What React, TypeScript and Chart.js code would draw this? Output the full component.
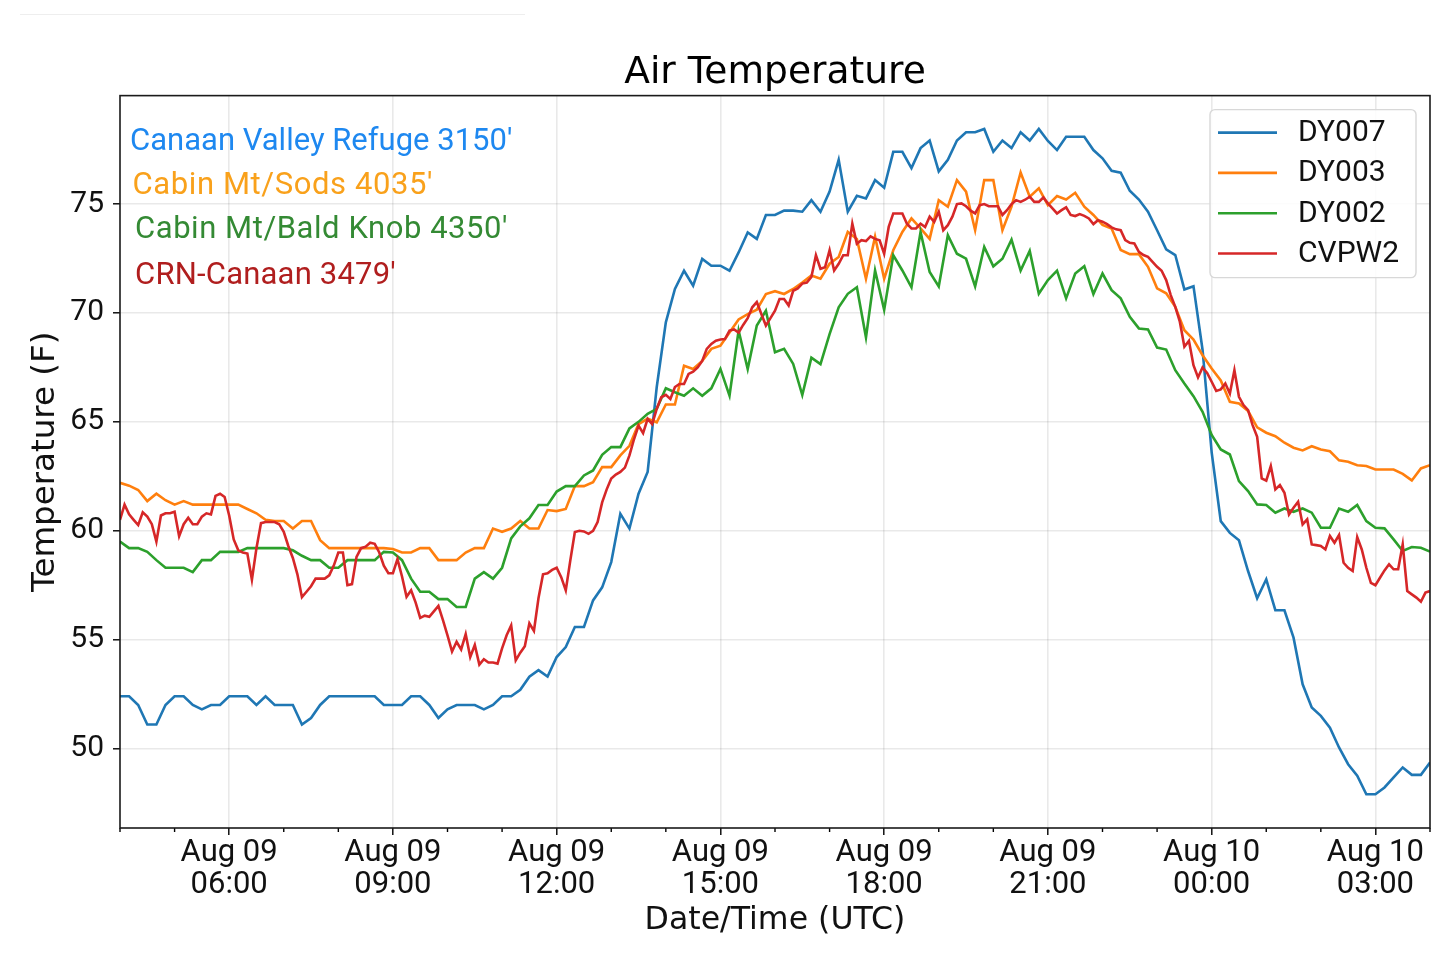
import React, { useEffect, useRef } from 'react';
import { Chart, registerables } from 'chart.js';

Chart.register(...registerables);

// Time axis: hours since Aug 09 00:00 UTC
const startHour = 4; // Aug 09 04:00
const endHour = 28; // Aug 10 04:00
const stepHours10 = 1 / 6; // 10-minute series
const stepHours5 = 1 / 12; // 5-minute series

const seriesLabels = ['DY007', 'DY003', 'DY002', 'CVPW2'];
const seriesColors = ['#1f77b4', '#ff7f0e', '#2ca02c', '#d62728'];

const stationNames = [
  "Canaan Valley Refuge 3150'",
  "Cabin Mt/Sods 4035'",
  "Cabin Mt/Bald Knob 4350'",
  "CRN-Canaan 3479'",
];
const stationColors = ['#1E88F0', '#F9A11B', '#348A34', '#B01E1E'];

const yTicks = [50, 55, 60, 65, 70, 75];
const xMajorHours = [6, 9, 12, 15, 18, 21, 24, 27];
const xTickLabels = [
  ['Aug 09', '06:00'],
  ['Aug 09', '09:00'],
  ['Aug 09', '12:00'],
  ['Aug 09', '15:00'],
  ['Aug 09', '18:00'],
  ['Aug 09', '21:00'],
  ['Aug 10', '00:00'],
  ['Aug 10', '03:00'],
];

// DY007 (10-min)
const dy007 = [
  52.4, 52.4, 52.0, 51.1, 51.1, 52.0, 52.4, 52.4, 52.0, 51.8,
  52.0, 52.0, 52.4, 52.4, 52.4, 52.0, 52.4, 52.0, 52.0, 52.0,
  51.1, 51.4, 52.0, 52.4, 52.4, 52.4, 52.4, 52.4, 52.4, 52.0,
  52.0, 52.0, 52.4, 52.4, 52.0, 51.4, 51.8, 52.0, 52.0, 52.0,
  51.8, 52.0, 52.4, 52.4, 52.7, 53.3, 53.6, 53.3, 54.2,
  54.66, 55.58, 55.58, 56.8, 57.4, 58.56, 60.78, 60.1, 61.7, 62.7,
  66.6, 69.57, 71.1, 71.94, 71.25, 72.48, 72.17, 72.17, 71.94, 72.78,
  73.7, 73.4,
  74.5, 74.5, 74.7, 74.7,
  74.65, 75.18, 74.65, 75.57, 77.03, 74.65, 75.38, 75.26, 76.1, 75.75,
  77.4, 77.4, 76.65, 77.57, 77.92, 76.5, 77.03, 77.92, 78.3, 78.3,
  78.45, 77.4, 77.92, 77.57, 78.3, 77.92, 78.45,
  77.9, 77.48, 78.09, 78.09, 78.09, 77.48, 77.1, 76.53, 76.44, 75.61,
  75.21, 74.65, 73.8, 72.92, 72.66, 71.08, 71.23, 68.3, 63.6,
  60.44, 59.9, 59.56, 58.15, 56.9, 57.77, 56.35, 56.35, 55.09, 52.95,
  51.88, 51.5, 50.96, 50.05, 49.28, 48.75, 47.9, 47.9, 48.21, 48.67,
  49.13, 48.79, 48.79, 49.36,
];

// DY003 (10-min)
const dy003 = [
  62.2, 62.07, 61.87, 61.36, 61.7, 61.4, 61.2, 61.36, 61.2, 61.2,
  61.2, 61.2, 61.2, 61.2, 61.0, 60.8, 60.5, 60.45, 60.45, 60.1,
  60.45, 60.45, 59.57, 59.2, 59.2, 59.2, 59.2, 59.2, 59.2, 59.2,
  59.16, 59.0, 59.0, 59.2, 59.2, 58.65, 58.65, 58.65, 59.0, 59.2,
  59.2, 60.1, 59.95, 60.1, 60.45, 60.1, 60.1, 60.95, 60.9,
  61.0, 62.05, 62.05, 62.23, 62.92, 62.92, 63.46, 63.9, 64.9, 65.14,
  64.98, 65.8, 65.8, 67.58, 67.43, 67.8, 68.35, 68.5, 69.1, 69.7,
  69.95, 70.15, 70.87, 71.0, 70.87, 71.1, 71.4,
  71.72, 71.57, 72.26, 72.57, 73.72, 73.4, 71.57, 73.5, 71.57, 72.88,
  73.72, 74.34, 73.88, 73.4, 75.18, 74.88, 76.1, 75.57, 73.8, 76.1,
  76.1, 73.8, 74.88, 76.45, 75.34, 75.72,
  74.95, 75.37, 75.21, 75.52, 74.88, 74.5, 74.04, 73.88, 72.89, 72.7,
  72.7, 72.12, 71.13, 70.9, 70.28, 69.21, 68.78, 68.06, 67.45,
  66.9, 65.92, 65.84, 65.5, 64.75, 64.5, 64.34, 64.04, 63.81, 63.69,
  63.88, 63.73, 63.65, 63.23, 63.17, 63.01, 62.97, 62.81, 62.81, 62.81,
  62.61, 62.31, 62.86, 63.01,
];

// DY002 (10-min)
const dy002 = [
  59.5, 59.2, 59.2, 59.03, 58.65, 58.3, 58.3, 58.3, 58.1, 58.65,
  58.65, 59.03, 59.03, 59.03, 59.2, 59.2, 59.2, 59.2, 59.2, 59.1,
  58.85, 58.65, 58.65, 58.3, 58.3, 58.65, 58.65, 58.65, 58.65, 59.03,
  59.0, 58.65, 57.8, 57.2, 57.2, 56.86, 56.86, 56.5, 56.5, 57.8,
  58.1, 57.8, 58.3, 59.65, 60.2, 60.57, 61.18, 61.18, 61.8,
  62.05, 62.05, 62.54, 62.77, 63.49, 63.84, 63.84, 64.7, 65.0, 65.37,
  65.6, 66.54, 66.36, 66.2, 66.54, 66.2, 66.54, 67.43, 66.2, 69.19,
  67.43, 69.42, 70.1, 68.2, 68.35, 67.66, 66.23,
  67.95, 67.65, 69.03, 70.26, 70.88, 71.18, 68.88, 71.95, 70.14, 72.65,
  71.95, 71.18, 73.72, 71.88, 71.22, 73.57, 72.72, 72.49, 71.22, 73.03,
  72.14, 72.49, 73.37, 71.95, 72.85, 70.88,
  71.51, 71.94, 70.67, 71.81, 72.15, 70.87, 71.81, 71.05, 70.67, 69.82,
  69.29, 69.24, 68.41, 68.32, 67.37, 66.76, 66.18, 65.46, 64.4,
  63.73, 63.5, 62.28, 61.82, 61.21, 61.18, 60.83, 61.02, 60.87, 61.02,
  60.83, 60.14, 60.14, 61.02, 60.87, 61.18, 60.44, 60.14, 60.11, 59.6,
  59.07, 59.25, 59.22, 59.04,
];

// CVPW2 (5-min)
const cvpw2 = [
  60.5, 61.2, 60.75, 60.5, 60.26, 60.85, 60.65, 60.3, 59.5, 60.7,
  60.8, 60.8, 60.87, 59.75, 60.3, 60.6, 60.3, 60.3, 60.65, 60.8,
  60.75, 61.6, 61.7, 61.55, 60.7, 59.6, 59.1, 59.0, 58.95, 57.75,
  59.2, 60.35, 60.4, 60.4, 60.4, 60.3, 59.95, 59.3, 58.75, 58.0,
  56.95, 57.2, 57.45, 57.8, 57.8, 57.8, 57.95, 58.4, 59.0, 59.0,
  57.5, 57.55, 58.8, 59.2, 59.27, 59.45, 59.4, 59.0, 58.4, 58.05,
  58.05, 58.7, 57.9, 56.97, 57.27, 56.7, 56.0, 56.1, 56.05, 56.3,
  56.55, 55.9, 55.2, 54.45, 54.9, 54.55, 55.25, 54.2, 54.75, 53.85,
  54.1, 53.95, 53.95, 53.9, 54.6, 55.2, 55.65, 54.05, 54.4, 54.7,
  55.75, 55.4, 56.9, 58.0, 58.05, 58.2, 58.3,
  57.87, 57.26, 58.64, 59.94, 60.0, 59.97, 59.86, 60.0, 60.4, 61.3,
  61.9, 62.4, 62.58, 62.7, 62.9, 63.46, 64.2, 64.83, 64.48, 65.14,
  64.9, 65.6, 66.13, 66.24, 66.05, 66.6, 66.74, 66.74, 67.2, 67.3,
  67.5, 67.8, 68.35, 68.58, 68.73, 68.78, 68.8, 69.19, 69.24, 69.1,
  69.45, 69.76, 70.26, 70.5, 69.95, 69.42, 69.76, 70.1, 70.64, 70.64,
  70.34, 71.02, 71.13, 71.35, 71.4,
  71.65, 72.65, 72.03, 72.1, 72.88, 71.95, 72.26, 72.65, 72.65, 74.1,
  73.18, 73.34, 73.3, 73.52, 73.4, 73.34, 72.72, 73.95, 74.57, 74.57,
  74.57, 74.1, 73.88, 73.88, 74.1, 73.95, 74.42, 74.18, 74.65, 73.8,
  74.03, 74.42, 75.0, 75.03, 74.9, 74.7, 74.57, 74.95, 75.0, 74.9,
  74.9, 74.9, 74.5, 74.72, 75.0, 75.18, 75.1, 75.2, 75.34, 75.1,
  75.1, 75.3, 75.03, 74.8,
  74.57, 74.72, 74.85, 74.5, 74.45, 74.54, 74.46, 74.34, 74.08, 74.26,
  74.19, 74.08, 73.93, 73.84, 73.8, 73.35, 73.22, 73.19, 72.81, 72.66,
  72.58, 72.35, 72.12, 71.94, 71.51, 70.82, 70.28, 69.6, 68.45, 68.72,
  67.6, 67.04, 67.5, 67.25, 66.84, 66.42, 66.49, 66.76, 66.3, 67.37,
  66.15, 65.77, 65.54, 64.85, 64.31, 62.4, 62.3,
  62.97, 61.9, 62.1, 61.74, 60.75, 61.06, 61.33, 60.29, 60.52, 59.37,
  59.34, 59.3, 59.14, 59.76, 59.45, 59.8, 58.53, 58.3, 58.15, 59.71,
  59.14, 58.3, 57.61, 57.5, 57.84, 58.18, 58.46, 58.23, 58.23, 59.37,
  57.23, 57.08, 56.93, 56.74, 57.16, 57.23,
];

const seriesValues = [dy007, dy003, dy002, cvpw2];
const seriesSteps = [stepHours10, stepHours10, stepHours10, stepHours5];

const TEXT = '#111111';
const GRID = 'rgba(0,0,0,0.085)';

const toPoints = (vals: number[], step: number) =>
  vals.map((v, i) => ({ x: startHour + i * step, y: v }));

const allHours: number[] = [];
for (let h = startHour; h <= endHour; h++) allHours.push(h);
const isMajor = (v: number) => xMajorHours.indexOf(v) >= 0;

const decorPlugin = {
  id: 'decor',
  afterDraw(chart: any) {
    const { ctx, chartArea: a, scales } = chart;
    ctx.save();
    // minor x ticks
    ctx.strokeStyle = '#000';
    ctx.lineWidth = 1.4;
    for (const h of allHours) {
      if (isMajor(h)) continue;
      const px = scales.x.getPixelForValue(h);
      ctx.beginPath();
      ctx.moveTo(px, a.bottom);
      ctx.lineTo(px, a.bottom + 4);
      ctx.stroke();
    }
    // frame
    ctx.lineWidth = 1.6;
    ctx.strokeStyle = '#1a1a1a';
    ctx.strokeRect(a.left, a.top, a.right - a.left, a.bottom - a.top);

    // station annotations
    const annOffsets = [47, 91, 135, 180.5];
    const annX = [10, 12.5, 15, 15];
    const annSpacing = ['0px', '0.6px', '0.55px', '0.2px'];
    ctx.font = '31px Roboto';
    ctx.textBaseline = 'middle';
    ctx.textAlign = 'left';
    stationNames.forEach((name, i) => {
      ctx.fillStyle = stationColors[i];
      try {
        (ctx as any).letterSpacing = annSpacing[i];
      } catch (e) {
        /* ignore */
      }
      ctx.fillText(name, a.left + annX[i], a.top + annOffsets[i]);
    });
    try {
      (ctx as any).letterSpacing = '0px';
    } catch (e) {
      /* ignore */
    }

    // legend
    const bw = 206;
    const bh = 168;
    const bx = a.right - 14 - bw;
    const by = a.top + 14;
    ctx.beginPath();
    if (ctx.roundRect) ctx.roundRect(bx, by, bw, bh, 5);
    else ctx.rect(bx, by, bw, bh);
    ctx.fillStyle = 'rgba(255,255,255,0.85)';
    ctx.fill();
    ctx.strokeStyle = '#d8d8d8';
    ctx.lineWidth = 1.4;
    ctx.stroke();
    ctx.font = '30px Roboto';
    chart.data.datasets.forEach((ds: any, i: number) => {
      const cy = by + 23 + i * 40.3;
      ctx.strokeStyle = ds.borderColor;
      ctx.lineWidth = 2.6;
      ctx.beginPath();
      ctx.moveTo(bx + 8, cy);
      ctx.lineTo(bx + 67, cy);
      ctx.stroke();
      ctx.fillStyle = TEXT;
      ctx.fillText(ds.label, bx + 88, cy + 1);
    });
    ctx.restore();
  },
};

export default function App() {
  const canvasRef = useRef<HTMLCanvasElement>(null);

  useEffect(() => {
    document.body.style.margin = '0';
    const canvas = canvasRef.current;
    if (!canvas) return;
    const chart = new Chart(canvas, {
      type: 'line',
      data: {
        datasets: seriesLabels.map((label, i) => ({
          label,
          data: toPoints(seriesValues[i], seriesSteps[i]),
          borderColor: seriesColors[i],
          backgroundColor: seriesColors[i],
          borderWidth: 2.6,
          pointRadius: 0,
          tension: 0,
          fill: false,
          order: seriesLabels.length - i,
        })),
      },
      options: {
        animation: false,
        responsive: true,
        maintainAspectRatio: false,
        layout: { padding: { top: 50.5, right: 10, bottom: 0, left: 0 } },
        plugins: {
          legend: { display: false },
          tooltip: { enabled: false },
          title: {
            display: true,
            text: 'Air Temperature',
            fullSize: false,
            color: '#000',
            font: { family: 'DejaVu Sans', size: 37.6, weight: 'normal', lineHeight: 1.2 },
            padding: { top: 0, bottom: 0 },
          },
        },
        scales: {
          x: {
            type: 'linear',
            min: startHour,
            max: endHour,
            afterBuildTicks: (axis: any) => {
              axis.ticks = allHours.map((v) => ({ value: v }));
            },
            afterFit: (scale: any) => {
              scale.height = 137;
            },
            border: { display: false },
            grid: {
              color: (c: any) => (c.tick && isMajor(c.tick.value) ? GRID : 'rgba(0,0,0,0)'),
              lineWidth: 1.6,
              tickColor: (c: any) => (c.tick && isMajor(c.tick.value) ? '#000' : 'rgba(0,0,0,0)'),
              tickLength: 7,
              tickWidth: 1.4,
            },
            ticks: {
              autoSkip: false,
              maxRotation: 0,
              minRotation: 0,
              padding: 2.5,
              color: TEXT,
              font: { family: 'Roboto', size: 31, lineHeight: 1.02 },
              callback: (v: any) => {
                const idx = xMajorHours.indexOf(Number(v));
                return idx >= 0 ? xTickLabels[idx] : '';
              },
            },
            title: {
              display: true,
              text: 'Date/Time (UTC)',
              color: TEXT,
              font: { family: 'DejaVu Sans', size: 31.6, lineHeight: 1.2 },
              padding: { top: 0, bottom: 25 },
            },
          },
          y: {
            type: 'linear',
            min: 46.35,
            max: 79.98,
            afterBuildTicks: (axis: any) => {
              axis.ticks = yTicks.map((v) => ({ value: v }));
            },
            afterFit: (scale: any) => {
              scale.width = 120;
            },
            border: { display: false },
            grid: {
              color: GRID,
              lineWidth: 1.6,
              tickColor: '#000',
              tickLength: 7,
              tickWidth: 1.4,
            },
            ticks: {
              padding: 9,
              color: TEXT,
              font: { family: 'Roboto', size: 30 },
              callback: (v: any) => String(v),
            },
            title: {
              display: true,
              text: 'Temperature (F)',
              color: TEXT,
              font: { family: 'DejaVu Sans', size: 32.5, lineHeight: 1.2 },
              padding: { top: 26, bottom: 0 },
            },
          },
        },
      },
      plugins: [decorPlugin],
    });
    return () => chart.destroy();
  }, []);

  return (
    <div style={{ position: 'relative', width: 1440, height: 965, background: '#fff' }}>
      <div
        style={{ position: 'absolute', left: 20, top: 14, width: 505, height: 1, background: '#eeeeee' }}
      />
      <canvas ref={canvasRef} />
    </div>
  );
}
